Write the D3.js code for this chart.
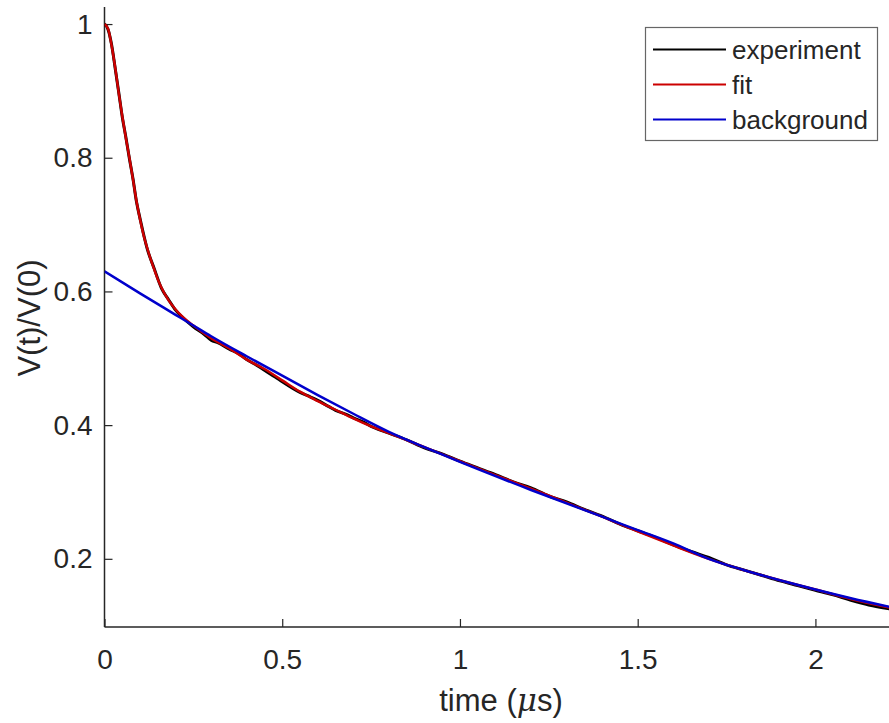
<!DOCTYPE html>
<html>
<head>
<meta charset="utf-8">
<script src="https://cdn.jsdelivr.net/npm/d3@7"></script>
<style>
  html, body { margin: 0; padding: 0; background: #fff; }
  svg { display: block; }
  text { font-family: "Liberation Sans", Arial, Helvetica, sans-serif; fill: #262626; }
</style>
</head>
<body>
<svg id="chart" width="889" height="723"></svg>
<script>
// ---- data ----
const xTicks = [0, 0.5, 1, 1.5, 2];
const xTickLabels = ["0", "0.5", "1", "1.5", "2"];
const yTicks = [0.2, 0.4, 0.6, 0.8, 1];
const yTickLabels = ["0.2", "0.4", "0.6", "0.8", "1"];
const seriesNames = ["experiment", "fit", "background"];

const expTime = [0,0.01,0.02,0.03,0.04,0.05,0.06,0.07,0.08,0.09,0.10,0.12,0.14,0.16,0.18,0.20,0.22,0.25,0.28,0.30,0.32,0.35,0.38,0.40,0.43,0.45,0.48,0.50,0.53,0.55,0.58,0.60,0.63,0.65,0.68,0.70,0.73,0.75,0.78,0.80,0.85,0.90,0.95,1.00,1.05,1.10,1.15,1.20,1.25,1.30,1.35,1.40,1.45,1.50,1.55,1.60,1.65,1.70,1.75,1.80,1.85,1.90,1.95,2.00,2.05,2.10,2.15,2.21];
const expValue = [1.000,0.992,0.969,0.934,0.898,0.861,0.831,0.799,0.769,0.734,0.709,0.664,0.634,0.605,0.588,0.572,0.561,0.547,0.536,0.527,0.523,0.514,0.506,0.498,0.489,0.482,0.472,0.465,0.455,0.449,0.442,0.437,0.428,0.422,0.416,0.411,0.404,0.398,0.392,0.388,0.378,0.366,0.357,0.346,0.336,0.326,0.315,0.306,0.294,0.285,0.274,0.264,0.252,0.242,0.232,0.221,0.211,0.202,0.191,0.183,0.175,0.167,0.160,0.153,0.146,0.138,0.131,0.125];

const fitTime = [0,0.01,0.02,0.03,0.04,0.05,0.06,0.07,0.08,0.09,0.10,0.11,0.12,0.13,0.14,0.15,0.16,0.18,0.20,0.22,0.25,0.30,0.35,0.40,0.45,0.50,0.55,0.60,0.65,0.70,0.75,0.80,0.90,1.00,1.10,1.20,1.30,1.40,1.50,1.60,1.70,1.80,1.90,2.00,2.10,2.21];
const fitValue = [1.000,0.993,0.968,0.935,0.897,0.862,0.830,0.800,0.768,0.735,0.708,0.684,0.665,0.648,0.633,0.618,0.606,0.587,0.573,0.562,0.549,0.530,0.515,0.498,0.484,0.467,0.450,0.436,0.423,0.410,0.398,0.388,0.367,0.346,0.325,0.305,0.284,0.263,0.241,0.220,0.200,0.183,0.168,0.154,0.140,0.127];

const bgTime = [0,0.1,0.2,0.25,0.3,0.4,0.5,0.6,0.7,0.8,0.9,1.0,1.2,1.4,1.5,1.6,1.7,1.8,1.9,2.0,2.1,2.21];
const bgValue = [0.630,0.597,0.565,0.549,0.533,0.503,0.474,0.445,0.417,0.390,0.367,0.345,0.303,0.263,0.243,0.223,0.200,0.183,0.168,0.154,0.141,0.128];

// ---- layout ----
const svg = d3.select("#chart");
const mLeft = 104.5, mRight = 889, mTop = 7, mBottom = 627;
const x = d3.scaleLinear().domain([0, 2.207]).range([mLeft, mRight]);
const y = d3.scaleLinear().domain([0.098, 1.0255]).range([mBottom, mTop]);
const axisColor = "#262626";
const tickFont = 28;
const labelFont = 31;
const legendFont = 26;

svg.append("defs").append("clipPath").attr("id", "plotclip")
  .append("rect").attr("x", mLeft).attr("y", mTop).attr("width", mRight - mLeft).attr("height", mBottom - mTop);

// axes (MATLAB style: ticks inward, no box)
const xAxis = d3.axisBottom(x).tickValues(xTicks).tickSize(-8).tickPadding(22)
  .tickFormat((d, i) => xTickLabels[i]);
const yAxis = d3.axisLeft(y).tickValues(yTicks).tickSize(-8).tickPadding(12)
  .tickFormat((d, i) => yTickLabels[i]);

const gx = svg.append("g").attr("transform", `translate(0,${mBottom})`).call(xAxis);
const gy = svg.append("g").attr("transform", `translate(${mLeft},0)`).call(yAxis);
[gx, gy].forEach(g => {
  g.select(".domain").remove();
  g.selectAll(".tick line").attr("stroke", axisColor).attr("stroke-width", 1.2);
  g.selectAll(".tick text").attr("font-size", tickFont).attr("fill", axisColor)
    .style("font-family", '"Liberation Sans", Arial, sans-serif');
});
gx.selectAll(".tick text").attr("dy", "0.71em");

// axis lines
svg.append("line").attr("x1", mLeft).attr("x2", mLeft).attr("y1", mTop).attr("y2", mBottom)
  .attr("stroke", axisColor).attr("stroke-width", 1.5);
svg.append("line").attr("x1", mLeft).attr("x2", mRight).attr("y1", mBottom).attr("y2", mBottom)
  .attr("stroke", axisColor).attr("stroke-width", 1.5);

// curves
const line = d3.line().x(d => x(d[0])).y(d => y(d[1])).curve(d3.curveMonotoneX);
const plot = svg.append("g").attr("clip-path", "url(#plotclip)");
const series = [
  { name: seriesNames[0], t: expTime, v: expValue, color: "#000000", w: 3 },
  { name: seriesNames[1], t: fitTime, v: fitValue, color: "#cc0000", w: 2.5 },
  { name: seriesNames[2], t: bgTime, v: bgValue, color: "#0000cc", w: 2.5 }
];
series.forEach(s => {
  plot.append("path").datum(s.t.map((t, i) => [t, s.v[i]]))
    .attr("d", line).attr("fill", "none").attr("stroke", s.color)
    .attr("stroke-width", s.w).attr("stroke-linejoin", "round");
});

// axis labels
svg.append("text").attr("x", 501).attr("y", 711)
  .attr("text-anchor", "middle").attr("font-size", labelFont)
  .html('time (<tspan font-style="italic" font-family="DejaVu Serif, serif">μ</tspan>s)');
svg.append("text").attr("transform", `translate(40,318) rotate(-90)`)
  .attr("text-anchor", "middle").attr("font-size", labelFont).text("V(t)/V(0)");

// legend
const lg = svg.append("g");
lg.append("rect").attr("x", 645.5).attr("y", 27.5).attr("width", 232).attr("height", 113)
  .attr("fill", "#fff").attr("stroke", "#666").attr("stroke-width", 1.2);
series.forEach((s, i) => {
  const yy = 49.5 + i * 35;
  lg.append("line").attr("x1", 653).attr("x2", 726).attr("y1", yy).attr("y2", yy)
    .attr("stroke", s.color).attr("stroke-width", 2);
  lg.append("text").attr("x", 732).attr("y", yy).attr("dy", "0.35em")
    .attr("font-size", legendFont).text(s.name);
});
</script>
</body>
</html>
